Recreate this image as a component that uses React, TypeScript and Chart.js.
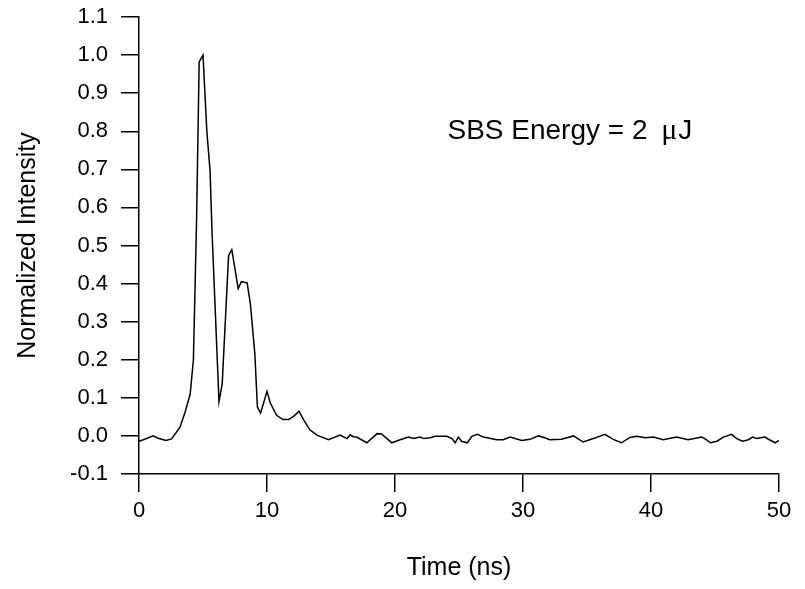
import React, { useEffect, useRef } from "react";
import { Chart, registerables } from "chart.js";

Chart.register(...registerables);

const timeNs: number[] = [
  0, 0.5, 1.1, 1.5, 2.1, 2.55, 3.2, 3.6, 4.0, 4.25, 4.5, 4.7, 5.0, 5.3, 5.55, 5.7,
  6.25, 6.5, 7.0, 7.25, 7.75, 8.0, 8.45, 8.7, 9.05, 9.25, 9.5, 10.0, 10.25, 10.75,
  11.25, 11.7, 12.1, 12.5, 12.85, 13.35, 13.9, 14.8, 15.7, 16.25, 16.5, 16.75, 17.0,
  17.8, 18.6, 18.95, 19.75, 20.4, 21.05, 21.45, 21.95, 22.25, 22.75, 23.15, 24.05,
  24.45, 24.7, 24.95, 25.2, 25.65, 26.0, 26.45, 26.9, 27.95, 28.45, 29.0, 29.9,
  30.55, 31.2, 31.7, 32.1, 33.0, 33.95, 34.7, 35.5, 36.4, 37.05, 37.7, 38.35, 38.9,
  39.55, 40.2, 40.95, 42.0, 42.9, 43.95, 44.2, 44.65, 45.15, 45.65, 46.3, 46.7,
  47.15, 47.6, 47.95, 48.25, 48.9, 49.25, 49.7, 50.0,
];

const intensity: number[] = [
  -0.014, -0.008, 0.0, -0.006, -0.012, -0.008, 0.023, 0.062, 0.11, 0.2, 0.57, 0.982,
  1.0, 0.8, 0.698, 0.54, 0.09, 0.137, 0.474, 0.489, 0.387, 0.405, 0.402, 0.347, 0.216,
  0.076, 0.06, 0.117, 0.087, 0.054, 0.043, 0.043, 0.052, 0.065, 0.043, 0.016, 0.002,
  -0.01, 0.002, -0.007, 0.003, -0.002, -0.003, -0.018, 0.006, 0.005, -0.018, -0.01,
  -0.003, -0.007, -0.003, -0.007, -0.005, -0.001, -0.001, -0.007, -0.018, -0.003,
  -0.014, -0.018, -0.001, 0.004, -0.003, -0.01, -0.01, -0.003, -0.012, -0.009, 0.0,
  -0.005, -0.01, -0.009, 0.0, -0.016, -0.007, 0.004, -0.009, -0.018, -0.004, -0.001,
  -0.005, -0.003, -0.01, -0.003, -0.01, -0.003, -0.007, -0.018, -0.014, -0.003, 0.004,
  -0.007, -0.014, -0.01, -0.003, -0.007, -0.003, -0.01, -0.018, -0.012,
];

const xTicks: number[] = [0, 10, 20, 30, 40, 50];
const yTicks: number[] = [-0.1, 0.0, 0.1, 0.2, 0.3, 0.4, 0.5, 0.6, 0.7, 0.8, 0.9, 1.0, 1.1];

const xTitle = "Time (ns)";
const yTitle = "Normalized Intensity";
const annotationParts: string[] = ["SBS Energy = 2 ", "\u03bc", "J"];
const annotationAt = { x: 24.1, y: 0.8 };

const FONT = "'Liberation Sans', Arial, Helvetica, sans-serif";
const SERIF = "'Liberation Serif', 'DejaVu Serif', serif";

export default function App() {
  const canvasRef = useRef<HTMLCanvasElement | null>(null);

  useEffect(() => {
    const canvas = canvasRef.current;
    if (!canvas) return;

    const annotationPlugin = {
      id: "annotationText",
      afterDatasetsDraw(chart: any) {
        const { ctx, scales } = chart;
        let px = scales.x.getPixelForValue(annotationAt.x);
        const py = scales.y.getPixelForValue(annotationAt.y);
        ctx.save();
        ctx.fillStyle = "#000";
        ctx.textAlign = "left";
        ctx.textBaseline = "middle";
        const fonts = [`28px ${FONT}`, `30px ${SERIF}`, `28px ${FONT}`];
        const gaps = [6, 1, 0];
        annotationParts.forEach((part, i) => {
          ctx.font = fonts[i];
          ctx.fillText(part, px, py);
          px += ctx.measureText(part).width + gaps[i];
        });
        ctx.restore();
      },
    };

    const chart = new Chart(canvas, {
      type: "scatter",
      data: {
        datasets: [
          {
            data: timeNs.map((t, i) => ({ x: t, y: intensity[i] })),
            showLine: true,
            borderColor: "#000",
            borderWidth: 1.5,
            pointRadius: 0,
            tension: 0,
            fill: false,
          },
        ],
      },
      options: {
        responsive: false,
        animation: false,
        layout: { padding: { top: 17, right: 26, left: 0, bottom: 0 } },
        plugins: {
          legend: { display: false },
          tooltip: { enabled: false },
        },
        scales: {
          x: {
            type: "linear",
            min: 0,
            max: 50,
            afterFit(scale: any) {
              scale.height = 115;
              scale.paddingLeft = 0;
              scale.paddingRight = 0;
            },
            afterBuildTicks(scale: any) {
              scale.ticks = xTicks.map((v) => ({ value: v }));
            },
            border: { display: true, color: "#000", width: 1.5 },
            grid: {
              drawOnChartArea: false,
              drawTicks: true,
              tickLength: 18,
              color: "#000",
              lineWidth: 1.5,
            },
            ticks: {
              color: "#000",
              padding: 6,
              maxRotation: 0,
              font: { family: FONT, size: 22 },
              callback: (v: any) => String(v),
            },
            title: {
              display: true,
              text: xTitle,
              color: "#000",
              font: { family: FONT, size: 25 },
              padding: { top: 0, bottom: 6 },
            },
          },
          y: {
            type: "linear",
            min: -0.1,
            max: 1.1,
            afterFit(scale: any) {
              scale.width = 139;
              scale.paddingTop = 0;
              scale.paddingBottom = 0;
            },
            afterBuildTicks(scale: any) {
              scale.ticks = yTicks.map((v) => ({ value: v }));
            },
            border: { display: true, color: "#000", width: 1.5 },
            grid: {
              drawOnChartArea: false,
              drawTicks: true,
              tickLength: 18,
              color: "#000",
              lineWidth: 1.5,
            },
            ticks: {
              color: "#000",
              padding: 13,
              font: { family: FONT, size: 22 },
              callback: (v: any) => Number(v).toFixed(1),
            },
            title: {
              display: true,
              text: yTitle,
              color: "#000",
              font: { family: FONT, size: 25 },
              padding: { top: 13, bottom: 0 },
            },
          },
        },
      },
      plugins: [annotationPlugin],
    });

    return () => chart.destroy();
  }, []);

  return (
    <div style={{ position: "absolute", left: 0, top: 0, width: 805, height: 589, background: "#fff" }}>
      <canvas ref={canvasRef} width={805} height={589} style={{ display: "block" }} />
    </div>
  );
}
